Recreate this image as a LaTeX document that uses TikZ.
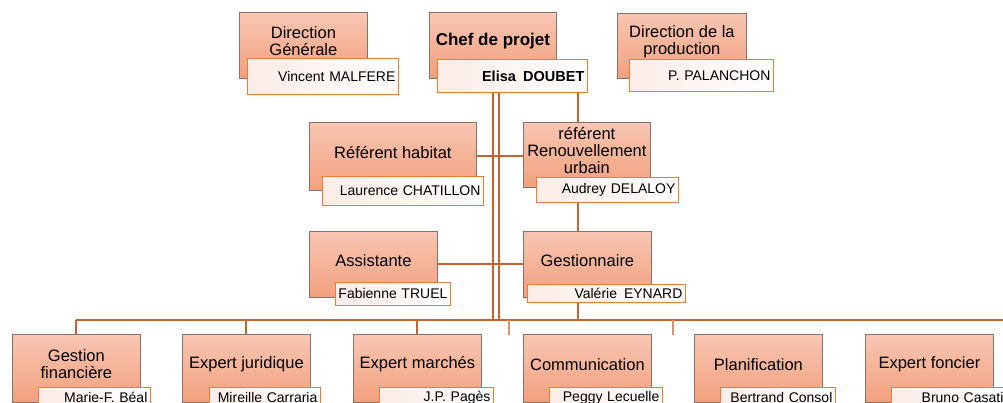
\documentclass[tikz,border=0pt]{standalone}
\usepackage{fontspec}
\setmainfont{Liberation Sans}
\usepackage{tikz}
\usetikzlibrary{backgrounds}

\definecolor{saumonclair}{RGB}{248,198,178}
\definecolor{saumon}{RGB}{242,160,126}
\definecolor{bordposte}{RGB}{130,115,108}
\definecolor{orangenom}{RGB}{237,125,49}
\definecolor{trait}{RGB}{196,100,48}
\definecolor{rosepale}{RGB}{251,236,230}

\begin{document}
\begin{tikzpicture}
        [
          x=1pt, y=-1pt,
          poste/.style={draw=bordposte, line width=0.8pt, top color=saumonclair,
            bottom color=saumon, anchor=north west, inner sep=0pt},
          titre/.style={font=\fontsize{16.5}{17}\selectfont, align=center, yshift=4pt},
          titulaire/.style={draw=orangenom, line width=0.8pt, left color=rosepale,
            right color=white, anchor=north west, inner xsep=3pt, inner ysep=0pt,
            align=right, font=\fontsize{14}{15}\selectfont},
          liaison/.style={draw=trait, line width=2pt}
        ]
        \useasboundingbox (0,0) rectangle (1003,403);
        % direction
        \node [poste, minimum width=128pt, minimum height=66pt,
          label={[titre]center:Direction\\Générale}] (dg) at (239,12) {};
        \node [titulaire, text width=145pt, minimum height=36pt] (dgn) at (247,58) {Vincent MALFERE};
        \node [poste, minimum width=127pt, minimum height=66pt,
          label={[titre, font=\fontsize{17}{18}\selectfont\bfseries]center:Chef de projet}] (chef) at (429,12) {};
        \node [titulaire, text width=144pt, minimum height=33pt, font=\fontsize{14.5}{15}\selectfont\bfseries] (chefn) at (437,59) {Elisa\ \,DOUBET};
        \node [poste, minimum width=129pt, minimum height=65pt,
          label={[titre]center:Direction de la\\production}] (prod) at (617,13) {};
        \node [titulaire, text width=138pt, minimum height=32pt] (prodn) at (629,59) {P. PALANCHON};
        % referents
        \node [poste, minimum width=167pt, minimum height=68pt,
          label={[titre]center:Référent habitat}] (hab) at (309,122) {};
        \node [titulaire, text width=155pt, minimum height=29pt] (habn) at (322,176) {Laurence CHATILLON};
        \node [poste, minimum width=127pt, minimum height=65pt,
          label={[titre]center:référent\\Renouvellement\\urbain}] (ru) at (523,122) {};
        \node [titulaire, text width=136pt, minimum height=25pt] (run) at (536,177) {Audrey DELALOY};
        % assistance
        \node [poste, minimum width=128pt, minimum height=66pt,
          label={[titre]center:Assistante}] (asst) at (309,231) {};
        \node [titulaire, text width=109pt, minimum height=23pt] (asstn) at (335,282) {Fabienne TRUEL};
        \node [poste, minimum width=128pt, minimum height=66pt,
          label={[titre]center:Gestionnaire}] (gest) at (523,231) {};
        \node [titulaire, text width=152pt, minimum height=18pt] (gestn) at (527,284) {Valérie\ \,EYNARD};
        % experts
        \foreach \i/\x/\nx/\tw/\titre/\nom in {
            1/12/38/106/{Gestion\\financière}/{Marie-F. Béal},
            2/182/209/105/{Expert juridique}/{Mireille Carraria},
            3/353/379/108/{Expert marchés}/{J.P. Pagès},
            4/523/549/107/{Communication}/{Peggy Lecuelle},
            5/694/720/109/{Planification}/{Bertrand Consol},
            6/865/891/109/{Expert foncier}/{Bruno Casati}} {
            \node [poste, minimum width=128pt, minimum height=68pt,
              label={[titre]center:\titre}] (b\i) at (\x,334) {};
            \node [titulaire, text width=\tw pt, minimum height=21pt] (b\i n) at (\nx,387) {\nom};
        }
        % liaisons
        \begin{pgfonlayer}{background}
            \coordinate (bus) at (0,320);
            \coordinate (axe) at (578,0);
            \coordinate (s1) at (508.5,335);
            \coordinate (s2) at (672.5,335);
            \draw [liaison] (chef.south) -- (chef.south |- bus);
            \draw [liaison] ([xshift=6.5pt]chef.south) -- ([xshift=6.5pt]chef.south |- bus);
            \draw [liaison] (axe |- chef.south) -- (axe |- bus);
            \draw [liaison] (hab.east) -- (hab.east -| ru.west);
            \draw [liaison] (asst.east) -- (asst.east -| gest.west);
            \draw [liaison] (b1.north |- bus) -- (1003,320);
            \foreach \i in {1,2,3} {
                \draw [liaison] (b\i.north) -- (b\i.north |- bus);
            }
            \draw [liaison, draw=trait!70] (s1) -- (s1 |- bus);
            \draw [liaison, draw=trait!70] (s2) -- (s2 |- bus);
        \end{pgfonlayer}
\end{tikzpicture}
\end{document}
